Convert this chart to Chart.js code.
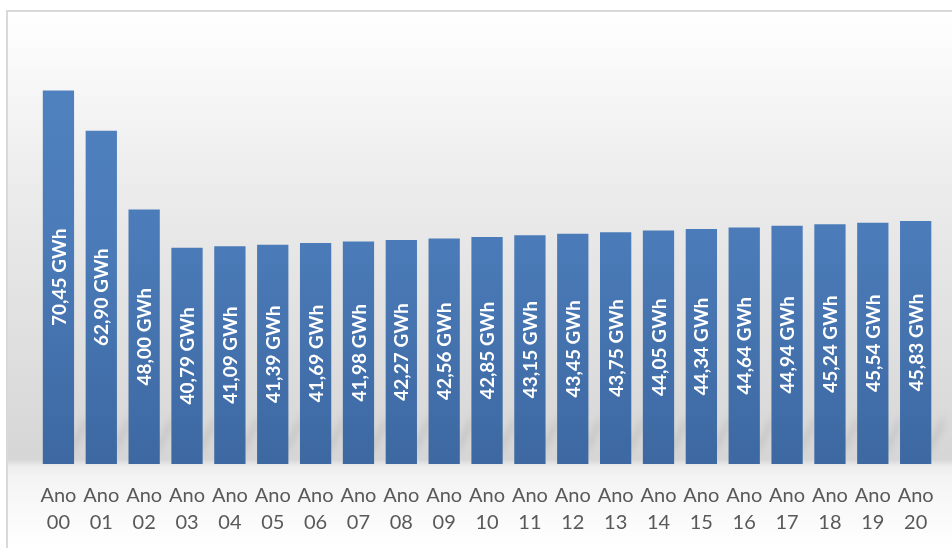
<!DOCTYPE html>
<html>
<head>
<meta charset="utf-8">
<script src="https://cdn.jsdelivr.net/npm/chart.js@4"></script>
<style>
  html, body { margin: 0; padding: 0; background: #fff; }
  #wrap { width: 952px; height: 548px; }
</style>
</head>
<body>
<div id="wrap"><canvas id="chart-bar"></canvas></div>
<script>
//BAR CHART DATA
var anoLabels = ["00", "01", "02", "03", "04", "05", "06", "07", "08", "09", "10",
  "11", "12", "13", "14", "15", "16", "17", "18", "19", "20"];
var energiaGWh = [70.45, 62.90, 48.00, 40.79, 41.09, 41.39, 41.69, 41.98, 42.27, 42.56, 42.85,
  43.15, 43.45, 43.75, 44.05, 44.34, 44.64, 44.94, 45.24, 45.54, 45.83];
var yMax = 80;

//BACKGROUND + FRAME
var backgroundPlugin = {
  id: "fundo",
  beforeDraw: function (chart) {
    var ctx = chart.ctx;
    var area = chart.chartArea;
    ctx.save();
    ctx.fillStyle = "#ffffff";
    ctx.fillRect(0, 0, chart.width, chart.height);
    var g = ctx.createLinearGradient(0, 11, 0, chart.height);
    var stop = (area.bottom - 11) / (chart.height - 11);
    g.addColorStop(0, "#ffffff");
    g.addColorStop(stop * 0.4, "#ebebeb");
    g.addColorStop(stop * 0.99, "#d6d6d6");
    g.addColorStop(stop * 1.005, "#ededed");
    g.addColorStop(stop * 1.03, "#f4f4f4");
    g.addColorStop(1, "#ffffff");
    ctx.fillStyle = g;
    ctx.fillRect(7, 11, chart.width - 7, chart.height - 11);
    // soft floor streaks between bars
    var meta = chart.getDatasetMeta(0);
    ctx.filter = "blur(3px)";
    ctx.fillStyle = "rgba(160,160,160,0.3)";
    meta.data.forEach(function (bar) {
      var x = bar.x + bar.width / 2;
      ctx.beginPath();
      ctx.moveTo(x - 2, area.bottom - 8);
      ctx.lineTo(x + 12, area.bottom - 36);
      ctx.lineTo(x + 12, area.bottom - 50);
      ctx.lineTo(x - 2, area.bottom - 22);
      ctx.closePath();
      ctx.fill();
    });
    ctx.filter = "none";
    ctx.strokeStyle = "#d9d9d9";
    ctx.lineWidth = 2;
    ctx.beginPath();
    ctx.moveTo(7, chart.height);
    ctx.lineTo(7, 11);
    ctx.lineTo(chart.width, 11);
    ctx.stroke();
    ctx.restore();
  }
};

//VALUE LABELS INSIDE BARS
var labelPlugin = {
  id: "rotulos",
  afterDatasetsDraw: function (chart) {
    var ctx = chart.ctx;
    var meta = chart.getDatasetMeta(0);
    ctx.save();
    ctx.fillStyle = "#ffffff";
    ctx.font = "bold 19px Lato";
    ctx.textAlign = "center";
    ctx.textBaseline = "middle";
    meta.data.forEach(function (bar, i) {
      var txt = energiaGWh[i].toFixed(2).replace(".", ",") + " GWh";
      var cy = (bar.y + bar.base) / 2;
      ctx.save();
      ctx.translate(bar.x, cy);
      ctx.rotate(-Math.PI / 2);
      ctx.fillText(txt, 0, 1);
      ctx.restore();
    });
    ctx.restore();
  }
};

/*************************CHART CONFIGURATION*******************/
var config = {
  type: "bar",
  data: {
    labels: anoLabels.map(function (a) { return ["Ano", a]; }),
    datasets: [
      {
        data: energiaGWh,
        backgroundColor: function (c) {
          var area = c.chart.chartArea;
          if (!area) return "#4f81bd";
          var g = c.chart.ctx.createLinearGradient(0, area.top, 0, area.bottom);
          g.addColorStop(0, "#5083c0");
          g.addColorStop(0.45, "#4b7cb9");
          g.addColorStop(1, "#3d68a2");
          return g;
        },
        borderWidth: 0,
        barPercentage: 0.73,
        categoryPercentage: 1
      }
    ]
  },
  options: {
    responsive: true,
    maintainAspectRatio: false,
    animation: false,
    layout: { padding: { left: 37, right: 14, top: 40, bottom: 0 } },
    plugins: {
      legend: { display: false },
      tooltip: { enabled: false }
    },
    scales: {
      x: {
        grid: { display: false, drawTicks: false },
        border: { display: false },
        ticks: {
          color: "#595959",
          font: { family: "Lato", size: 20, lineHeight: 1.35 },
          padding: 18,
          maxRotation: 0,
          autoSkip: false
        },
        afterFit: function (axis) { axis.height = 84; }
      },
      y: {
        display: false,
        min: 0,
        max: yMax
      }
    }
  },
  plugins: [backgroundPlugin, labelPlugin]
};

//ONLOAD FUNCTION
window.onload = function () {
  var ctx = document.getElementById("chart-bar").getContext("2d");
  window.myBar = new Chart(ctx, config);
};
</script>
</body>
</html>
